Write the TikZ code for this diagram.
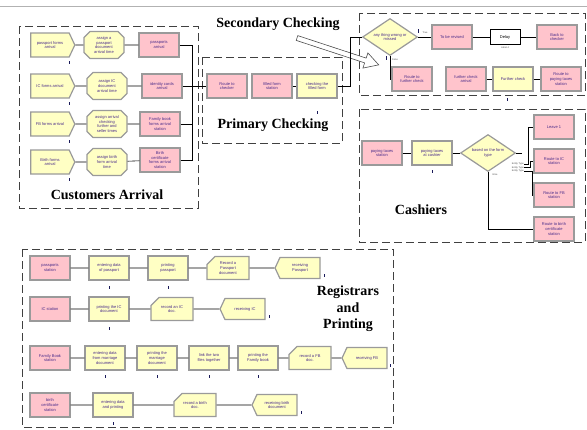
\documentclass[tikz,border=0pt]{standalone}
\usepackage{fontspec}
\usepackage{xcolor}
\usepackage{tikz}
\usetikzlibrary{shapes.geometric, shapes.misc, shapes.symbols, calc}

\newfontfamily\modfont{Liberation Sans}
\newfontfamily\headfont{Liberation Serif}

\definecolor{modpink}{HTML}{FFC4CC}
\definecolor{modyellow}{HTML}{FFFFC4}
\definecolor{modedge}{HTML}{9A9A9A}
\definecolor{modtext}{HTML}{4A2C8A}
\definecolor{tickc}{HTML}{1A1A5A}

\newcommand{\qtick}[2]{\fill[tickc] ($(#1)+#2$) rectangle ++(1.2,3.5);}

\begin{document}
\begin{tikzpicture}[
    x=1pt, y=-1pt,
    box/.style={draw=modedge, line width=1.2pt, font=\modfont\fontsize{4}{4.7}\selectfont, text=modtext, align=center, inner sep=1pt},
    station/.style={box, rectangle, fill=modpink, minimum width=40pt, minimum height=24pt},
    proc/.style={box, rectangle, fill=modyellow, minimum width=40pt, minimum height=24pt},
    assign/.style={box, chamfered rectangle, chamfered rectangle sep=3pt, fill=modyellow, minimum width=40pt, minimum height=27pt},
    create/.style={box, signal, signal to=east, signal from=nowhere, signal pointer angle=130, fill=modyellow, minimum width=44pt, minimum height=24pt},
    dispose/.style={box, signal, signal to=west, signal from=nowhere, signal pointer angle=130, fill=modyellow, minimum width=45pt, minimum height=21pt},
    record/.style={box, chamfered rectangle, chamfered rectangle corners=north west, chamfered rectangle sep=4pt, fill=modyellow, minimum width=42pt, minimum height=23pt},
    decide/.style={box, diamond, aspect=1.5, fill=modyellow, minimum width=55pt, minimum height=37pt},
    delaybox/.style={draw=black, line width=0.5pt, fill=white, minimum width=30pt, minimum height=15pt, font=\modfont\fontsize{4}{4.7}\selectfont},
    tag/.style={font=\modfont\fontsize{2.4}{2.8}\selectfont, text=black!70, inner sep=0pt},
    heading/.style={font=\headfont\bfseries\fontsize{14}{16.5}\selectfont, align=center, inner sep=0pt},
    frame/.style={draw=black!75, line width=0.8pt, dash pattern=on 8pt off 4pt},
    conn/.style={draw=black, line width=0.6pt}
]
\useasboundingbox (0,0) rectangle (587,429);
\draw[gray!60, line width=0.8pt] (0,6) -- (587,6);

\draw[frame] (19,26) rectangle (198,208);
\draw[frame] (202,57) rectangle (342,143);
\draw[frame] (359,13) rectangle (585,95);
\draw[frame] (359,109) rectangle (585,242);
\draw[frame] (22,249) rectangle (393,427);

\node[heading] (arrLbl) at (107,195) {Customers Arrival};
\node[heading] (priLbl) at (273,125) {Primary Checking};
\node[heading] (secLbl) at (278,24) {Secondary Checking};
\node[heading] (cashLbl) at (421,210) {Cashiers};
\node[heading] (regLbl) at (348,309) {Registrars\\and\\Printing};

\begin{scope}[shift={(297,38)}, rotate=-18.2]
\draw[black!70, line width=0.6pt, fill=white] (0,-2.5) -- (72,-2.5) -- (72,-8) -- (86,0) -- (72,8) -- (72,2.5) -- (0,2.5) -- cycle;
\end{scope}

\node[create] (pfArr) at (50,45) {passport forms\\arrival};
\node[assign] (pfAsg) at (104,45) {assign a\\passport\\document\\arrival time};
\node[station] (ppArr) at (159,45) {passports\\arrival};
\node[create] (icArr) at (50,86) {IC forms arrival};
\node[assign] (icAsg) at (107,86) {assign IC\\document\\arrival time};
\node[station] (idArr) at (162,86) {identity cards\\arrival};
\node[create] (fbArr) at (50,124) {FB forms arrival};
\node[assign] (fbAsg) at (107,124) {assign arrival\\checking\\further and\\seller times};
\node[station] (fbSta) at (160,124) {Family book\\forms arrival\\station};
\node[create] (bfArr) at (50,162) {Birth forms\\arrival};
\node[assign] (bfAsg) at (107,162) {assign birth\\form arrival\\time};
\node[station] (bcSta) at (160,160) {Birth\\certificate\\forms arrival\\station};
\coordinate (arrJoin) at (192,86);

\node[station] (toChk) at (227,86) {Route to\\checker};
\node[station] (fillSta) at (272,86) {filled form\\station};
\node[proc] (chkForm) at (317,86) {checking the\\filled form};

\node[decide] (anyWrong) at (390,37) {any thing wrong or\\missed};
\node[station] (revise) at (452,37) {To be revised};
\node[delaybox] (delay) at (505,37) {Delay};
\node[station] (back) at (557,37) {Back to\\checker};
\node[station] (toFur) at (412,79) {Route to\\further check};
\node[station] (furArr) at (466,79) {further check\\arrival};
\node[proc] (furChk) at (513,79) {Further check};
\node[station] (toPay) at (561,79) {Route to\\paying taxes\\station};
\node[tag] (trueTag) at (425,33) {True};
\node[tag] (falseTag) at (395,60) {False};
\node[tag] (delayTag) at ($(delay.south)+(0,3)$) {Label 4};

\node[station] (paySta) at (382,153) {paying taxes\\station};
\node[proc] (payCash) at (432,153) {paying taxes\\at cashier};
\node[decide] (formType) at (488,153) {based on the form\\type};
\node[station] (leave) at (554,127) {Leave 1};
\node[station] (toIC) at (554,161) {Route to IC\\station};
\node[station] (toFB) at (554,195) {Route to FB\\station};
\node[station] (toBirth) at (554,229) {Route to birth\\certificate\\station};
\node[tag, anchor=east] (case1) at (524,164) {Entity Type};
\node[tag, anchor=east] (case2) at (524,167.5) {Entity Type};
\node[tag, anchor=east] (case3) at (524,171) {Entity Type};
\node[tag] (elseTag) at (495,175) {Else};

\node[station] (ppSta) at (50,268) {passports\\station};
\node[proc] (ppEnter) at (109,268) {entering data\\of passport};
\node[proc] (ppPrint) at (168,268) {printing\\passport};
\node[record] (ppRec) at (228,268) {Record a\\Passport\\document};
\node[dispose] (ppRecv) at (300,268) {receiving\\Passport};
\node[station] (icSta) at (50,309) {IC station};
\node[proc] (icPrint) at (109,309) {printing the IC\\document};
\node[record] (icRec) at (172,309) {record an IC\\doc.};
\node[dispose] (icRecv) at (245,309) {receiving IC};
\node[station] (fbkSta) at (50,358) {Family Book\\station};
\node[proc] (fbEnter) at (105,358) {entering data\\from marriage\\document};
\node[proc] (fbPrint) at (157,358) {printing the\\marriage\\document};
\node[proc] (fbLink) at (209,358) {link the two\\files together};
\node[proc] (fbBook) at (258,358) {printing the\\Family book};
\node[record] (fbRec) at (310,358) {record a FB\\doc.};
\node[dispose] (fbRecv) at (367,358) {receiving FB};
\node[station] (bSta) at (50,405) {birth\\certificate\\station};
\node[proc] (bEnter) at (113,405) {entering data\\and printing};
\node[record] (bRec) at (195,405) {record a birth\\doc.};
\node[dispose] (bRecv) at (277,405) {receiving birth\\document};

\draw[conn] (pfArr) -- (pfAsg) (pfAsg) -- (ppArr);
\draw[conn] (icArr) -- (icAsg) (icAsg) -- (idArr);
\draw[conn] (fbArr) -- (fbAsg) (fbAsg) -- (fbSta);
\draw[conn] (bfArr) -- (bfAsg) (bfAsg) -- (bcSta);
\draw[conn] (ppArr.east) -| (arrJoin);
\draw[conn] (fbSta.east) -| (arrJoin);
\draw[conn] (bcSta.east) -| (arrJoin);
\draw[conn] (idArr.east) -- (toChk.west);
\draw[conn] (fillSta) -- (chkForm);
\draw[conn] (chkForm.east) -- ++(13,0) |- (anyWrong.west);

\draw[conn] (anyWrong) -- (revise) (revise) -- (delay) (delay) -- (back);
\draw[conn] (anyWrong.south) |- (toFur.west);
\draw[conn] (furArr) -- (furChk) (furChk) -- (toPay);

\draw[conn] (paySta) -- (payCash) (payCash) -- (formType);
\draw[conn] (formType.east) -- ++(6,0);
\draw[conn] (case1.east) -- ++(4,0) |- (leave.west);
\draw[conn] (case2.east) -- ++(6,0) |- (toIC.west);
\draw[conn] (case3.east) -- ++(8,0) |- (toFB.west);
\draw[conn] (formType.south) |- (toBirth.west);

\draw[conn] (ppSta) -- (ppEnter) (ppEnter) -- (ppPrint) (ppPrint) -- (ppRec) (ppRec) -- (ppRecv);
\draw[conn] (icSta) -- (icPrint) (icPrint) -- (icRec) (icRec) -- (icRecv);
\draw[conn] (fbkSta) -- (fbEnter) (fbEnter) -- (fbPrint) (fbPrint) -- (fbLink) (fbLink) -- (fbBook) (fbBook) -- (fbRec) (fbRec) -- (fbRecv);
\draw[conn] (bSta) -- (bEnter) (bEnter) -- (bRec) (bRec) -- (bRecv);

\qtick{pfArr.south east}{(-1,3)}
\qtick{icArr.south east}{(-1,3)}
\qtick{fbArr.south east}{(-1,3)}
\qtick{bfArr.south east}{(-1,3)}
\qtick{chkForm.south}{(0,12)}
\qtick{anyWrong.east}{(0,-8)}
\qtick{anyWrong.south}{(-4,0)}
\qtick{furChk.south}{(-6,6)}
\qtick{payCash.south}{(0,4)}
\qtick{ppEnter.south}{(0,5)}
\qtick{ppPrint.south}{(0,5)}
\qtick{icPrint.south}{(0,5)}
\qtick{fbEnter.south}{(0,4)}
\qtick{fbPrint.south}{(0,4)}
\qtick{fbLink.south}{(0,4)}
\qtick{fbBook.south}{(0,4)}
\qtick{bEnter.south}{(0,4)}
\qtick{ppRecv.south east}{(3,-4)}
\qtick{icRecv.south east}{(3,-4)}
\qtick{fbRecv.south east}{(2,-4)}
\qtick{bRecv.south east}{(3,-4)}
\end{tikzpicture}
\end{document}
